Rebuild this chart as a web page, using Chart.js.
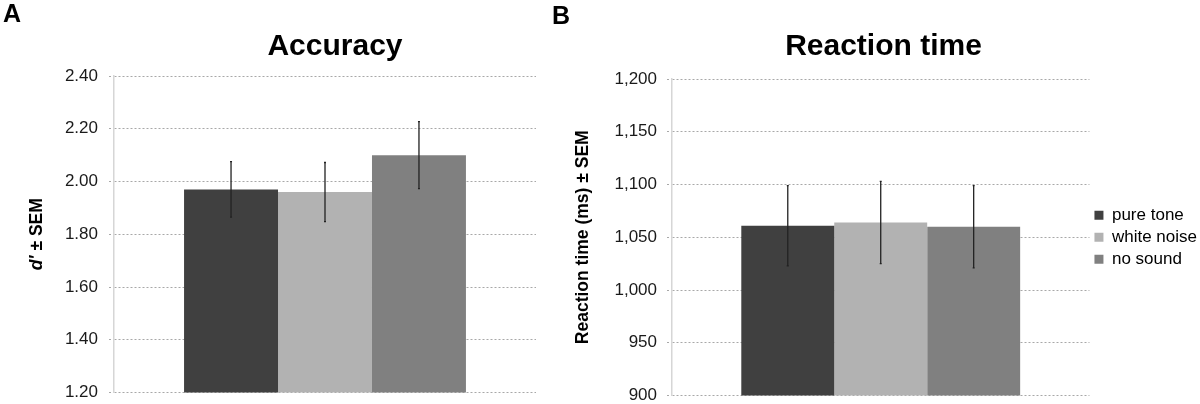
<!DOCTYPE html>
<html>
<head>
<meta charset="utf-8">
<script src="https://cdn.jsdelivr.net/npm/chart.js@4/dist/chart.umd.min.js"></script>
<style>
  body { margin: 0; background: #fff; font-family: "Liberation Sans", Arial, sans-serif; overflow: hidden; }
  #wrap { position: relative; width: 1200px; height: 404px; overflow: hidden; }
  .panel { position: absolute; font-weight: bold; font-size: 25px; color: #000; }
  canvas { position: absolute; top: 0; }
</style>
</head>
<body>
<div id="wrap">
  <canvas id="accChart" width="550" height="412" style="left:0"></canvas>
  <canvas id="rtChart" width="660" height="414" style="left:550px"></canvas>
  <div class="panel" style="left:3px; top:-1px">A</div>
  <div class="panel" style="left:552px; top:1px">B</div>
</div>
<script>
// данные
const conditions   = ['pure tone', 'white noise', 'no sound'];
const accuracy     = [1.97, 1.96, 2.10];
const accuracyErr  = [0.105, 0.112, 0.127];
const reactionTime = [1061, 1064, 1060];
const reactionErr  = [38, 39, 39];

const barColors = ['#404040', '#b2b2b2', '#808080'];
const FONT = '"Liberation Sans", Arial, sans-serif';

// усы ошибок поверх столбиков
const errorBarsPlugin = {
  id: 'errorBars',
  afterDatasetsDraw(chart, args, opts) {
    const { ctx } = chart;
    const y = chart.scales.y;
    ctx.save();
    ctx.strokeStyle = opts.color || '#222';
    ctx.lineWidth = opts.lineWidth || 1.3;
    chart.data.datasets.forEach((ds, i) => {
      const bar = chart.getDatasetMeta(i).data[0];
      const v = ds.data[0], e = opts.errors[i];
      const yTop = y.getPixelForValue(v + e);
      const yBot = y.getPixelForValue(v - e);
      ctx.beginPath();
      ctx.moveTo(bar.x, yTop);
      ctx.lineTo(bar.x, yBot);
      ctx.moveTo(bar.x - 1, yTop);
      ctx.lineTo(bar.x + 1, yTop);
      ctx.moveTo(bar.x - 1, yBot);
      ctx.lineTo(bar.x + 1, yBot);
      ctx.stroke();
    });
    ctx.restore();
  }
};

// заголовок графика и повернутая подпись оси Y (курсив только для части текста)
const textsPlugin = {
  id: 'texts',
  afterDraw(chart, args, opts) {
    const { ctx, chartArea } = chart;
    ctx.save();
    ctx.fillStyle = '#000';
    ctx.textBaseline = 'middle';
    ctx.textAlign = 'center';
    ctx.font = 'bold 30px ' + FONT;
    ctx.fillText(opts.title, opts.titleX, opts.titleY);

    const size = opts.size || 17;
    ctx.translate(opts.x, (chartArea.top + chartArea.bottom) / 2);
    ctx.rotate(-Math.PI / 2);
    ctx.textAlign = 'left';
    let total = 0;
    opts.parts.forEach(p => {
      ctx.font = (p.italic ? 'italic ' : '') + 'bold ' + size + 'px ' + FONT;
      p.w = ctx.measureText(p.text).width;
      total += p.w;
    });
    let x = -total / 2;
    opts.parts.forEach(p => {
      ctx.font = (p.italic ? 'italic ' : '') + 'bold ' + size + 'px ' + FONT;
      ctx.fillText(p.text, x, 0);
      x += p.w;
    });
    ctx.restore();
  }
};

function makeDatasets(values) {
  return conditions.map((c, i) => ({
    label: c,
    data: [values[i]],
    backgroundColor: barColors[i],
    borderWidth: 0,
    categoryPercentage: 0.668,
    barPercentage: 1
  }));
}

function yAxis(min, max, step, width, fmt, pad) {
  return {
    min: min, max: max,
    afterFit(scale) { scale.width = width; },
    ticks: {
      stepSize: step,
      color: '#1a1a1a',
      padding: pad,
      font: { family: FONT, size: 17, lineHeight: 1.0 },
      callback: fmt
    },
    grid: {
      color: '#a8a8a8',
      lineWidth: 1,
      tickLength: 5,
      tickColor: '#a8a8a8',
      tickBorderDash: [2, 2]
    },
    border: { display: true, color: '#d6d6d6', width: 1.5, dash: [2, 2] }
  };
}

function makeChart(id, opts) {
  return new Chart(document.getElementById(id).getContext('2d'), {
    type: 'bar',
    data: { labels: [''], datasets: makeDatasets(opts.values) },
    plugins: [errorBarsPlugin, textsPlugin],
    options: {
      responsive: false,
      animation: false,
      layout: { padding: opts.padding },
      scales: {
        x: { display: false },
        y: opts.y
      },
      plugins: {
        title: { display: false },
        legend: opts.legend,
        tooltip: { enabled: false },
        errorBars: { errors: opts.errors, color: '#222', lineWidth: 1.3 },
        texts: {
          title: opts.title, titleX: opts.titleX, titleY: 47,
          x: opts.axisTitleX, parts: opts.yTitle, size: 17.5
        }
      }
    }
  });
}

makeChart('accChart', {
  values: accuracy,
  errors: accuracyErr,
  title: 'Accuracy',
  titleX: 335,
  padding: { left: 0, right: 14, top: 76, bottom: 4 },
  y: yAxis(1.2, 2.4, 0.2, 114, v => v.toFixed(2), 11),
  legend: { display: false },
  axisTitleX: 37,
  yTitle: [{ text: 'd\u2032', italic: true }, { text: ' \u00b1 SEM' }]
});

makeChart('rtChart', {
  values: reactionTime,
  errors: reactionErr,
  title: 'Reaction time',
  titleX: 333.5,
  padding: { left: 0, right: 3, top: 79, bottom: 0 },
  y: yAxis(900, 1200, 50, 122, v => v.toLocaleString('en-US'), 10),
  legend: {
    display: true,
    position: 'right',
    fullSize: false,
    labels: {
      boxWidth: 9,
      boxHeight: 9,
      padding: 5,
      color: '#000',
      font: { family: FONT, size: 17 }
    }
  },
  axisTitleX: 33,
  yTitle: [{ text: 'Reaction time (ms) \u00b1 SEM' }]
});
</script>
</body>
</html>
